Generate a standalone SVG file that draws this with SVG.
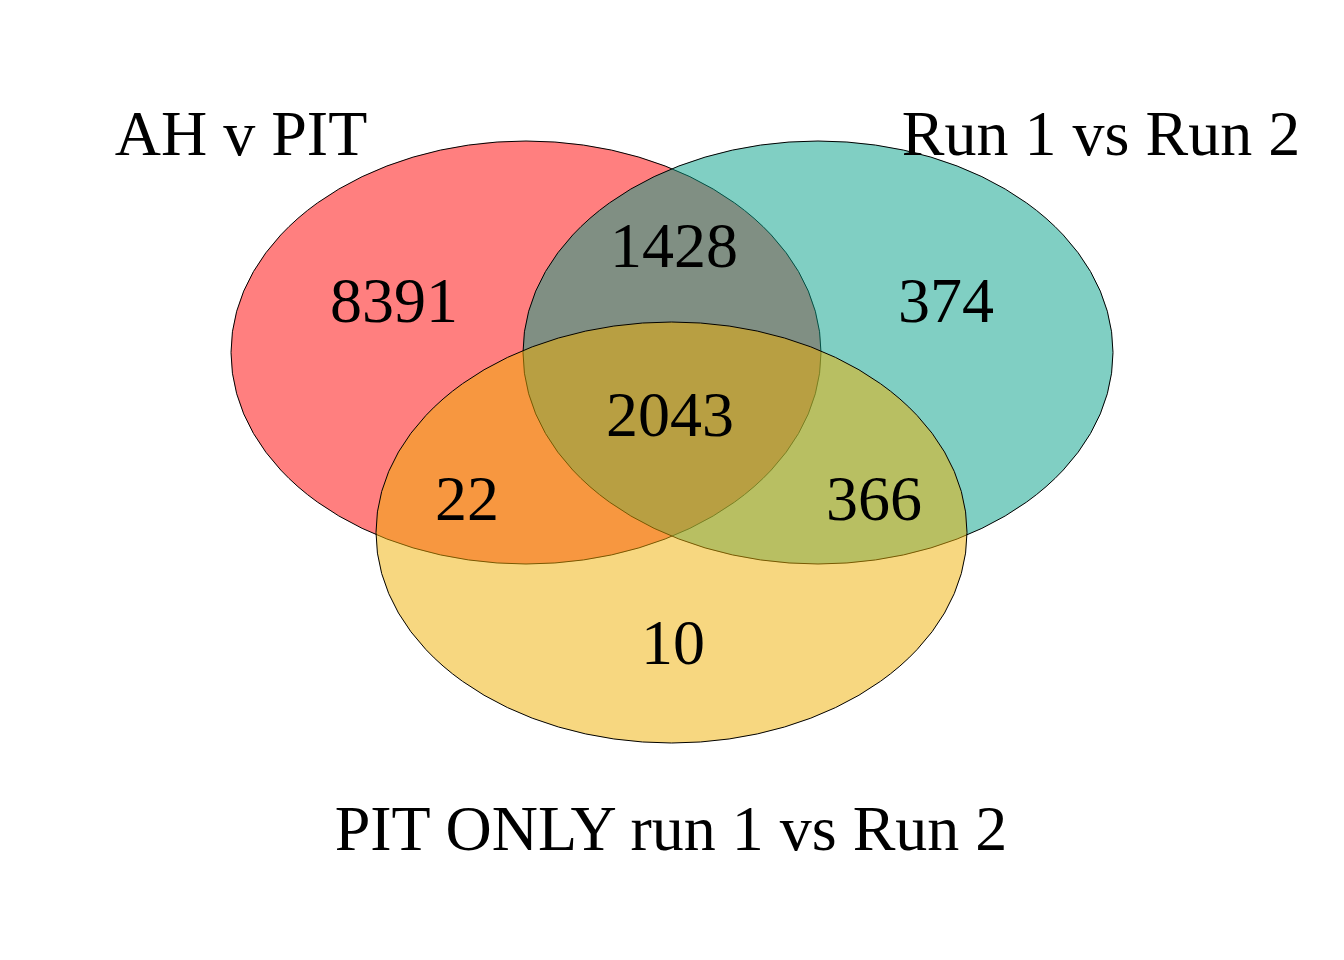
<svg xmlns="http://www.w3.org/2000/svg" width="1344" height="960" viewBox="0 0 1344 960">
<style>
.set{stroke:#000;stroke-width:1;fill-opacity:0.5}
text{font-family:"Liberation Serif","Times New Roman",serif;font-size:64px;fill:#000;text-anchor:middle}
</style>
<rect width="1344" height="960" fill="#fff"/>
<g id="set-ah-v-pit"><ellipse class="set" cx="526" cy="352.5" rx="295" ry="211.5" fill="#FF0000"/></g>
<g id="set-run1-vs-run2"><ellipse class="set" cx="818" cy="352.5" rx="295" ry="211.5" fill="#01A088"/></g>
<g id="set-pit-only"><ellipse class="set" cx="671.5" cy="532.5" rx="295.5" ry="210.5" fill="#EFAF01"/></g>
<g id="counts">
<text x="394" y="322">8391</text>
<text x="674" y="267">1428</text>
<text x="946" y="322">374</text>
<text x="670" y="436">2043</text>
<text x="467" y="520">22</text>
<text x="874" y="520">366</text>
<text x="673" y="664">10</text>
</g>
<g id="labels">
<text x="241" y="155">AH v PIT</text>
<text x="1101" y="155">Run 1 vs Run 2</text>
<text x="671" y="850">PIT ONLY run 1 vs Run 2</text>
</g>
</svg>
